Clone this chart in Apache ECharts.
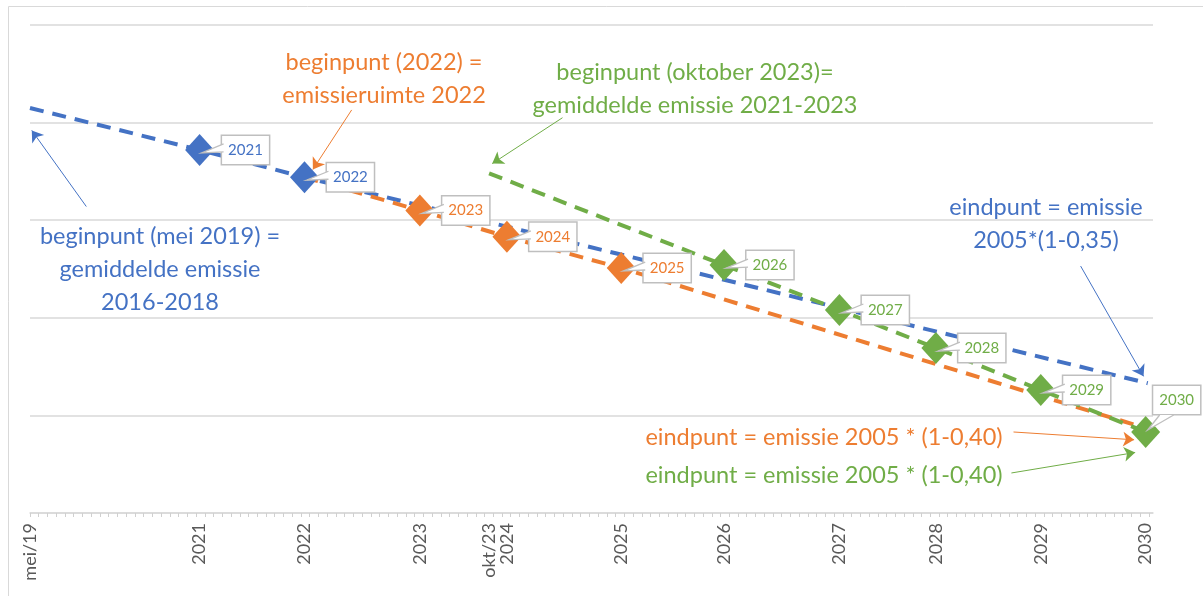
<!DOCTYPE html>
<html>
<head>
<meta charset="utf-8">
<title>emissieruimte</title>
<script src="https://cdn.jsdelivr.net/npm/echarts@6/dist/echarts.min.js"></script>
<style>
html, body { margin: 0; padding: 0; background: #fff; }
#chart { width: 1203px; height: 596px; }
</style>
</head>
<body>
<div id="chart"></div>
<script>
// x = jaar (decimaal), y = emissie in rastereenheden (1 per horizontale lijn)
var xMin = 2019.333, xMax = 2030.04;

// as-labels (datums van de datapunten)
var tickX      = [2019.333, 2020.95, 2021.95, 2023.05, 2023.71, 2023.88, 2024.97, 2025.95, 2027.05, 2027.97, 2028.97, 2029.97];
var tickLabels = ['mei/19', '2021', '2022', '2023', 'okt/23', '2024', '2025', '2026', '2027', '2028', '2029', '2030'];

// blauw: mei 2019 -> 2030
var blauwX    = [2019.333, 2020.95, 2021.95, 2029.99];
var blauwY    = [4.15, 3.72, 3.44, 1.33];
var blauwNaam = ['', '2021', '2022', ''];

// oranje: 2022 -> 2030
var oranjeX    = [2021.95, 2023.05, 2023.88, 2024.97, 2029.97];
var oranjeY    = [3.44, 3.10, 2.83, 2.51, 0.87];
var oranjeNaam = ['', '2023', '2024', '2025', ''];

// groen: oktober 2023 -> 2030
var groenX    = [2023.71, 2025.95, 2027.05, 2027.97, 2028.97, 2029.97];
var groenY    = [3.48, 2.54, 2.08, 1.69, 1.26, 0.83];
var groenNaam = ['', '2026', '2027', '2028', '2029', '2030'];

var BLAUW = '#4472C4', ORANJE = '#ED7D31', GROEN = '#70AD47';
var FONT = 'Lato';

// pijlen [vanX, vanY, naarX, naarY] in data-eenheden
var pijlBlauw  = [[2019.87, 3.14, 2019.35, 3.92], [2029.35, 2.53, 2029.95, 1.40]];
var pijlOranje = [[2022.40, 4.13, 2022.03, 3.52], [2028.71, 0.83, 2029.86, 0.75]];
var pijlGroen  = [[2024.41, 4.05, 2023.74, 3.58], [2028.69, 0.41, 2029.87, 0.62]];

// maandelijkse maatstreepjes
var maandTicks = [];
for (var m = 0; xMin + m / 12 <= xMax + 0.001; m++) maandTicks.push(xMin + m / 12);

function punten(xs, ys, namen) {
	return xs.map(function (x, i) {
		var p = { value: [x, ys[i]], name: namen[i] };
		if (!namen[i]) {
			p.symbolSize = 0;
			p.label = { show: false };
		}
		return p;
	});
}

function pijlen(lijst, kleur) {
	return {
		silent: true,
		symbol: ['none', 'arrow'],
		symbolSize: 11,
		label: { show: false },
		lineStyle: { color: kleur, type: 'solid', width: 1 },
		data: lijst.map(function (a) {
			return [{ coord: [a[0], a[1]] }, { coord: [a[2], a[3]] }];
		})
	};
}

function reeks(naam, kleur, xs, ys, namen, pijl) {
	return {
		name: naam,
		type: 'line',
		data: punten(xs, ys, namen),
		symbol: 'diamond',
		symbolSize: [29, 32],
		showSymbol: true,
		itemStyle: { color: kleur },
		lineStyle: { color: kleur, width: 4, type: [14, 9] },
		label: {
			show: true,
			position: 'right',
			distance: 8,
			formatter: '{b}',
			color: kleur,
			fontFamily: FONT,
			fontSize: 15,
			backgroundColor: '#fff',
			borderColor: '#bfbfbf',
			borderWidth: 1.5,
			padding: [7, 6, 6, 6]
		},
		markLine: pijl
	};
}

var groenData = reeks('groen', GROEN, groenX, groenY, groenNaam, pijlen(pijlGroen, GROEN));
// label 2030 staat boven het punt
groenData.data[5].label = { position: 'top', distance: 2, offset: [31, 0] };

var chart = echarts.init(document.getElementById('chart'));
chart.setOption({
	animation: false,
	grid: { left: 30, right: 50, top: 25, bottom: 83 },
	xAxis: {
		type: 'value',
		min: xMin,
		max: xMax,
		splitLine: { show: false },
		axisLine: { lineStyle: { color: '#d9d9d9', width: 1.5 } },
		axisTick: { customValues: maandTicks, length: 4, lineStyle: { color: '#d0d0d0' } },
		axisLabel: {
			customValues: tickX,
			rotate: 90,
			margin: 10,
			color: '#595959',
			fontFamily: FONT,
			fontSize: 18,
			formatter: function (v) {
				for (var i = 0; i < tickX.length; i++) {
					if (Math.abs(tickX[i] - v) < 0.005) return tickLabels[i];
				}
				return '';
			}
		}
	},
	yAxis: {
		type: 'value',
		min: 0,
		max: 5,
		interval: 1,
		axisLine: { show: false },
		axisTick: { show: false },
		axisLabel: { show: false },
		splitLine: { lineStyle: { color: '#d9d9d9', width: 1.5 } }
	},
	series: [
		reeks('blauw', BLAUW, blauwX, blauwY, blauwNaam, pijlen(pijlBlauw, BLAUW)),
		reeks('oranje', ORANJE, oranjeX, oranjeY, oranjeNaam, pijlen(pijlOranje, ORANJE)),
		groenData
	]
});

// toelichtingen
function tekst(x, y, txt, kleur) {
	return {
		type: 'text',
		x: x,
		y: y,
		z: 10,
		style: {
			text: txt,
			fill: kleur,
			font: '23.5px ' + FONT,
			textAlign: 'center',
			textVerticalAlign: 'middle',
			lineHeight: 33
		}
	};
}

var graphics = [
	{ type: 'rect', shape: { x: 8.5, y: 6.5, width: 1200, height: 600 }, style: { fill: null, stroke: '#d9d9d9', lineWidth: 1 } },
	tekst(384, 79, 'beginpunt (2022) =\nemissieruimte 2022', ORANJE),
	tekst(695, 89, 'beginpunt (oktober 2023)=\ngemiddelde emissie 2021-2023', GROEN),
	tekst(160, 269, 'beginpunt (mei 2019) =\ngemiddelde emissie\n2016-2018', BLAUW),
	tekst(1046, 224, 'eindpunt = emissie\n2005*(1-0,35)', BLAUW),
	tekst(824, 437, 'eindpunt = emissie 2005 * (1-0,40)', ORANJE),
	tekst(824, 475, 'eindpunt = emissie 2005 * (1-0,40)', GROEN)
];

// aanwijzers van de labelkaders naar de punten
function wig(reeksIdx, x, y, boven) {
	var p = chart.convertToPixel({ seriesIndex: reeksIdx }, [x, y]);
	var a, b, t;
	if (boven) {
		a = [p[0] + 14, p[1] - 17];
		b = [p[0] + 28, p[1] - 17];
		t = [p[0] + 2, p[1] - 2];
	} else {
		a = [p[0] + 24, p[1] - 6];
		b = [p[0] + 24, p[1] + 2];
		t = [p[0] + 2, p[1] + 3];
	}
	graphics.push({ type: 'polygon', z: 5, shape: { points: [a, t, b] }, style: { fill: '#fff', stroke: null } });
	graphics.push({ type: 'polyline', z: 5, shape: { points: [a, t, b] }, style: { fill: null, stroke: '#bfbfbf', lineWidth: 1.3 } });
}
[[0, blauwX, blauwY, blauwNaam], [1, oranjeX, oranjeY, oranjeNaam], [2, groenX, groenY, groenNaam]].forEach(function (s) {
	s[1].forEach(function (x, i) {
		if (s[3][i]) wig(s[0], x, s[2][i], s[3][i] === '2030');
	});
});

chart.setOption({ graphic: graphics });
</script>
</body>
</html>
